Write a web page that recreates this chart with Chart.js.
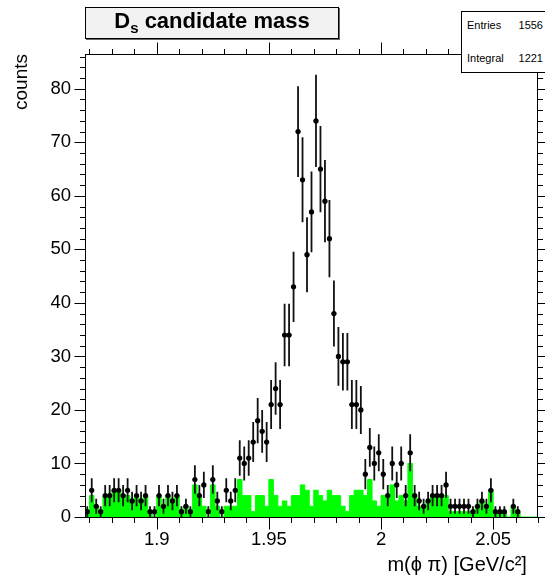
<!DOCTYPE html>
<html>
<head>
<meta charset="utf-8">
<title>Ds candidate mass</title>
<script src="https://cdn.jsdelivr.net/npm/chart.js@4.4.1/dist/chart.umd.min.js"></script>
<style>
  body { margin: 0; background: #fff; }
  #lienzo { position: relative; width: 545px; height: 579px; overflow: hidden; font-family: "Liberation Sans", Arial, sans-serif; }
  #grafico { position: absolute; left: 0; top: 0; }
  #titulo { position: absolute; left: 85px; top: 7px; width: 252px; height: 30px; border: 1px solid #000; background: #f2f2f2;
            box-shadow: 1px 1px 0 #666; font-weight: bold; font-size: 22px; line-height: 26px; text-align: center; }
  #titulo sub { font-size: 15px; vertical-align: -5px; line-height: 0; }
  #stats { position: absolute; left: 461px; top: 11px; width: 100px; height: 60px; border: 1px solid #000; background: #fff; font-size: 11px; }
  #stats div { position: absolute; left: 5px; width: 76px; line-height: 13px; }
  #stats span { float: right; }
</style>
</head>
<body>
<div id="lienzo">
  <canvas id="grafico" width="545" height="579"></canvas>
  <div id="titulo">D<sub>s</sub> candidate mass</div>
  <div id="stats">
    <div style="top:7px">Entries<span>1556</span></div>
    <div style="top:40px">Integral<span>1221</span></div>
  </div>
</div>
<script>
// histograma: 101 bins de 0.002 desde 1.868
const binInicio = 1.868;
const anchoBin = 0.002;

// cuentas por bin (puntos negros)
const cuentas = [
  1, 5, 2, 1, 4, 4, 5, 5, 4, 5,
  3, 4, 3, 4, 1, 1, 4, 2, 4, 3,
  4, 1, 2, 1, 7, 4, 6, 1, 7, 3,
  1, 5, 3, 5, 11, 10, 11, 14, 18, 16,
  14, 21, 24, 21, 34, 34, 43, 72, 63, 49,
  57, 74, 65, 59, 52, 38, 30, 29, 29, 21,
  21, 20, 8, 13, 10, 12, 8, 4, 10, 6,
  10, 4, 12, 4, 3, 2, 3, 4, 4, 4,
  6, 2, 2, 2, 2, 2, 1, 2, 3, 2,
  5, 1, 1, 1, 0, 2, 1, 0, 0, 0,
  0
];

// histograma verde
const fondo = [
  1, 4, 2, 1, 4, 4, 5, 5, 4, 4,
  3, 4, 3, 4, 1, 0, 4, 2, 4, 3,
  4, 1, 2, 1, 6, 4, 2, 0, 6, 2,
  0, 2, 2, 2, 7, 4, 4, 1, 4, 4,
  2, 7, 4, 2, 3, 2, 4, 4, 6, 5,
  2, 5, 4, 3, 5, 4, 4, 2, 1, 4,
  5, 5, 4, 7, 3, 2, 4, 4, 6, 3,
  4, 3, 10, 4, 2, 2, 3, 4, 4, 4,
  4, 1, 1, 1, 1, 1, 1, 2, 3, 2,
  5, 1, 1, 1, 0, 2, 1, 0, 0, 0,
  0
];

const valoresX = [1.9, 1.95, 2.0, 2.05];
const etiquetasX = ['1.9', '1.95', '2', '2.05'];
const valoresY = [0, 10, 20, 30, 40, 50, 60, 70, 80];
const etiquetasY = ['0', '10', '20', '30', '40', '50', '60', '70', '80'];

const puntos = [];
cuentas.forEach((n, i) => {
  if (n > 0) puntos.push({ x: binInicio + anchoBin * (i + 0.5), y: n });
});

const escalones = fondo.map((n, i) => ({ x: binInicio + anchoBin * i, y: n }));
escalones.push({ x: binInicio + anchoBin * fondo.length, y: 0 });

const fuente = '"Liberation Sans", Arial, sans-serif';

// barras de error sqrt(N), antes de dibujar los marcadores
const barrasError = {
  id: 'barrasError',
  beforeDatasetDraw(chart, args) {
    if (args.index !== 0) return;
    const ctx = chart.ctx;
    const x = chart.scales.x;
    const y = chart.scales.y;
    ctx.save();
    ctx.strokeStyle = '#111';
    ctx.lineWidth = 1.8;
    puntos.forEach(p => {
      const err = Math.sqrt(p.y);
      const px = x.getPixelForValue(p.x);
      const py = y.getPixelForValue(p.y);
      ctx.beginPath();
      ctx.moveTo(px, y.getPixelForValue(p.y - err));
      ctx.lineTo(px, y.getPixelForValue(p.y + err));
      ctx.moveTo(x.getPixelForValue(p.x - anchoBin / 2), py);
      ctx.lineTo(x.getPixelForValue(p.x + anchoBin / 2), py);
      ctx.stroke();
    });
    ctx.restore();
  }
};

// marco y marcas de los ejes (estilo ROOT)
const marco = {
  id: 'marco',
  afterDatasetsDraw(chart) {
    const ctx = chart.ctx;
    const a = chart.chartArea;
    const x = chart.scales.x;
    const y = chart.scales.y;
    const L = a.left + 0.5, R = a.right - 0.5, T = a.top + 0.5, B = a.bottom + 0.5;
    ctx.save();
    ctx.strokeStyle = '#000';
    ctx.lineWidth = 1;
    ctx.strokeRect(L, T, R - L, B - T);
    ctx.beginPath();
    for (let k = 187; k <= 207; k++) {
      const v = k / 100;
      const px = Math.round(x.getPixelForValue(v)) + 0.5;
      const largo = (k % 5 === 0) ? 12 : 5.5;
      ctx.moveTo(px, B); ctx.lineTo(px, B + largo);
      ctx.moveTo(px, T); ctx.lineTo(px, T - largo);
    }
    for (let v = 0; v <= 86; v += 2) {
      const py = Math.round(y.getPixelForValue(v)) + 0.5;
      const largo = (v % 10 === 0) ? 11 : 5.5;
      ctx.moveTo(L, py); ctx.lineTo(L - largo, py);
      ctx.moveTo(R, py); ctx.lineTo(R + largo, py);
    }
    ctx.stroke();
    ctx.restore();
  }
};

new Chart(document.getElementById('grafico'), {
  type: 'scatter',
  data: {
    datasets: [
      {
        label: 'datos',
        data: puntos,
        order: 1,
        pointRadius: 2.6,
        pointHoverRadius: 2.6,
        pointBorderWidth: 0,
        backgroundColor: '#000',
        borderColor: '#000'
      },
      {
        type: 'line',
        label: 'verde',
        data: escalones,
        order: 2,
        showLine: true,
        stepped: true,
        fill: 'origin',
        borderColor: '#00ff00',
        backgroundColor: '#00ff00',
        borderWidth: 1,
        pointRadius: 0,
        tension: 0
      }
    ]
  },
  options: {
    responsive: false,
    animation: false,
    events: [],
    layout: { padding: { top: 54, right: 7, left: 0, bottom: 0 } },
    plugins: { legend: { display: false }, tooltip: { enabled: false } },
    scales: {
      x: {
        type: 'linear',
        min: binInicio,
        max: binInicio + anchoBin * cuentas.length,
        grid: { display: false, drawTicks: false },
        border: { display: false },
        afterBuildTicks: s => { s.ticks = valoresX.map(v => ({ value: v })); },
        afterFit: s => { s.height = 62; },
        ticks: {
          autoSkip: false, maxRotation: 0, padding: 12, color: '#000',
          font: { family: fuente, size: 18.5 },
          callback: (v, i) => etiquetasX[i]
        },
        title: {
          display: true, text: 'm(\u03d5 \u03c0) [GeV/c\u00b2]  ', align: 'end', color: '#000',
          font: { family: fuente, size: 20 }, padding: { top: 0, bottom: 2 }
        }
      },
      y: {
        type: 'linear',
        min: 0,
        max: 86.5,
        grid: { display: false, drawTicks: false },
        border: { display: false },
        afterBuildTicks: s => { s.ticks = valoresY.map(v => ({ value: v })); },
        afterFit: s => { s.width = 85; },
        ticks: {
          autoSkip: false, padding: 14, color: '#000',
          font: { family: fuente, size: 18.5 },
          callback: (v, i) => etiquetasY[i]
        },
        title: {
          display: true, text: 'counts', align: 'end', color: '#000',
          font: { family: fuente, size: 19 }, padding: { top: 10, bottom: 0 }
        }
      }
    }
  },
  plugins: [barrasError, marco]
});
</script>
</body>
</html>
